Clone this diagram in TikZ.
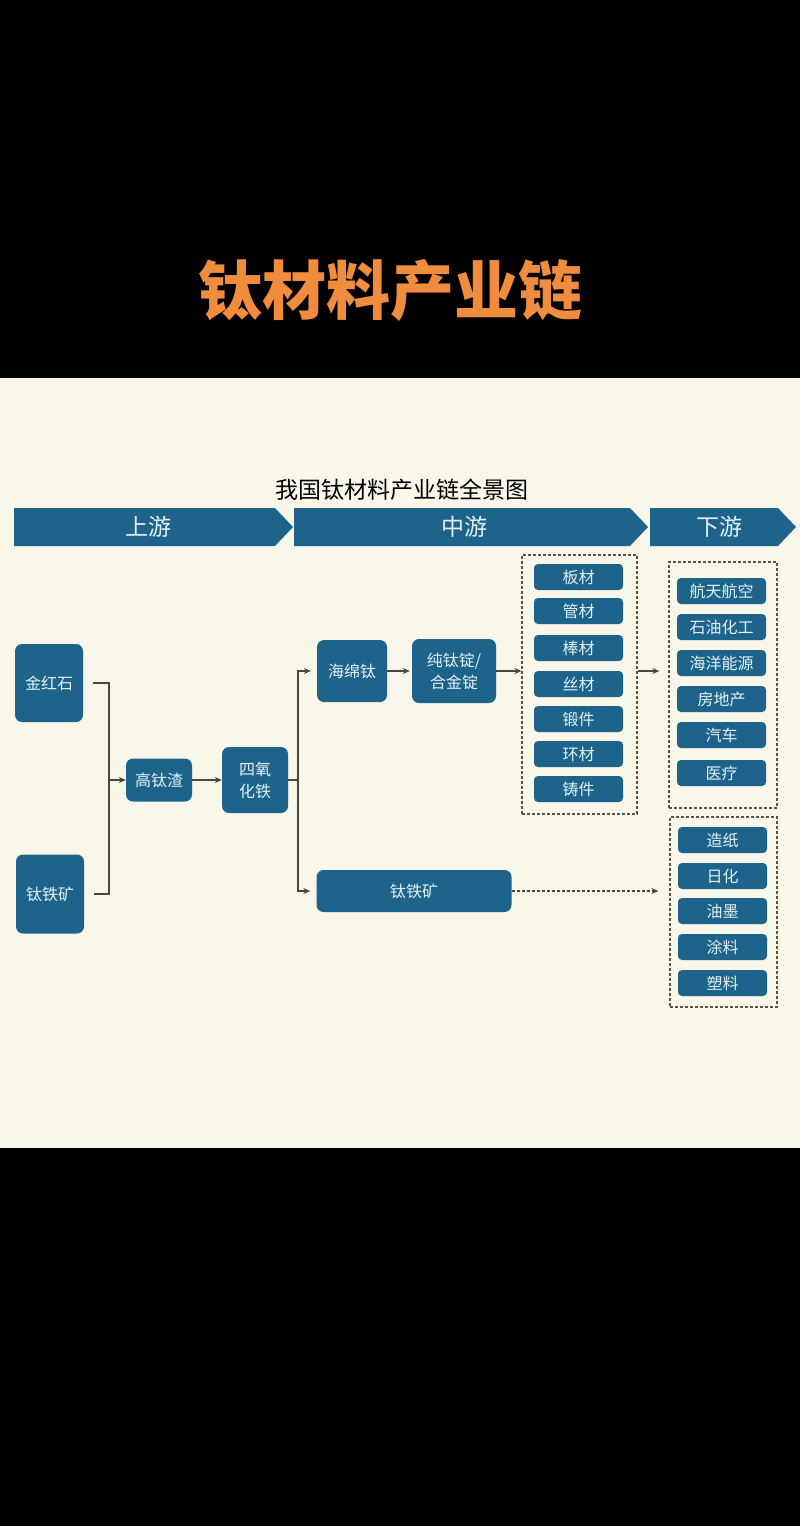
\documentclass[tikz,border=0pt]{standalone}
\usepackage{fontspec}
\newfontfamily\cjk{Noto Sans CJK SC}
\usetikzlibrary{arrows.meta,positioning}
\definecolor{night}{RGB}{0,0,0}
\definecolor{paper}{RGB}{249,247,233}
\definecolor{heading}{RGB}{240,140,62}
\definecolor{tibox}{RGB}{30,100,138}
\definecolor{tilabel}{RGB}{226,241,248}
\definecolor{wiregray}{RGB}{72,72,64}
\definecolor{framegray}{RGB}{85,85,80}
\tikzset{
  block/.style={fill=tibox,text=tilabel,rounded corners=7pt,align=center,
    inner sep=0pt,font=\cjk\fontsize{16}{22}\selectfont},
  item/.style={block,rounded corners=4pt,minimum width=89pt,minimum height=26pt},
  group/.style={draw=framegray,line width=1.2pt,dash pattern=on 3pt off 2pt},
  wire/.style={draw=wiregray,line width=1.6pt},
  feed/.style={wire,-{Stealth[length=7pt,width=6pt]}},
  banner/.style={fill=tibox},
  bannertext/.style={text=tilabel,font=\cjk\fontsize{23}{23}\selectfont}
}

\begin{document}
\begin{tikzpicture}[x=1pt,y=-1pt]
  \useasboundingbox (0,0) rectangle (800,1526);
  \fill[night] (0,0) rectangle (800,1526);
  \fill[paper] (0,378) rectangle (800,1148);
  \node[text=heading,font=\cjk\bfseries\fontsize{64}{64}\selectfont] (title) at (390,290) {钛材料产业链};
  \node[font=\cjk\fontsize{23}{23}\selectfont] (subtitle) at (402,490) {我国钛材料产业链全景图};
  % stage banners
  \fill[banner] (14,508) -- (275,508) -- (293,527) -- (275,546) -- (14,546) -- cycle;
  \fill[banner] (294,508) -- (630,508) -- (648,527) -- (630,546) -- (294,546) -- cycle;
  \fill[banner] (650,508) -- (778,508) -- (796,527) -- (778,546) -- (650,546) -- cycle;
  \node[bannertext] (up) at (148,527) {上游};
  \node[bannertext] (mid) at (464,527) {中游};
  \node[bannertext] (down) at (719,527) {下游};
  % raw ores and refining
  \node[block,minimum width=68pt,minimum height=78pt] (jhs) at (49,683) {金红石};
  \node[block,minimum width=68pt,minimum height=79pt] (tkA) at (50,894) {钛铁矿};
  \node[block,minimum width=66pt,minimum height=43pt] (gtz) at (159,780) {高钛渣};
  \node[block,minimum width=66pt,minimum height=66pt] (syht) at (255,780) {四氧\\化铁};
  \node[block,minimum width=70pt,minimum height=62pt] (hmt) at (352,671) {海绵钛};
  \node[block,minimum width=84pt,minimum height=64pt] (ingot) at (454,671) {纯钛锭/\\合金锭};
  \node[block,minimum width=195pt,minimum height=42pt] (tkB) at (414,891) {钛铁矿};
  % dashed groups
  \node[group,minimum width=115pt,minimum height=259pt] (mat) at (579.5,684.5) {};
  \node[group,minimum width=108pt,minimum height=246pt] (app) at (723,685) {};
  \node[group,minimum width=107pt,minimum height=190pt] (chem) at (723.5,912) {};
  \foreach \txt/\y [count=\i] in {板材/577,管材/611,棒材/648,丝材/684,锻件/719,环材/754,铸件/789}
    \node[item] (m\i) at (578.5,\y) {\txt};
  \foreach \txt/\y [count=\i] in {航天航空/591,石油化工/627,海洋能源/663,房地产/699,汽车/735,医疗/773}
    \node[item] (a\i) at (721.5,\y) {\txt};
  \foreach \txt/\y [count=\i] in {造纸/840,日化/876,油墨/911,涂料/947,塑料/983}
    \node[item] (c\i) at (722.5,\y) {\txt};
  % connectors
  \coordinate (splitA) at (109,780);
  \coordinate (splitB) at (298,780);
  \draw[wire] ([xshift=10pt]jhs.east) -| (splitA);
  \draw[wire] ([xshift=10pt]tkA.east) -| (splitA);
  \draw[feed] (splitA) -- (gtz);
  \draw[feed] (gtz) -- (syht);
  \draw[wire] (syht) -- (splitB);
  \draw[feed,shorten >=6pt] (splitB) |- (hmt);
  \draw[feed,shorten >=6pt] (splitB) |- (tkB);
  \draw[feed,shorten >=2pt] (hmt) -- (ingot);
  \draw[feed] (ingot) -- (ingot -| mat.west);
  \draw[feed,shorten >=9pt] (mat.east |- ingot) -- (app.west |- ingot);
  \draw[feed,densely dashed,shorten >=11pt] (tkB) -- (tkB -| chem.west);
\end{tikzpicture}
\end{document}
